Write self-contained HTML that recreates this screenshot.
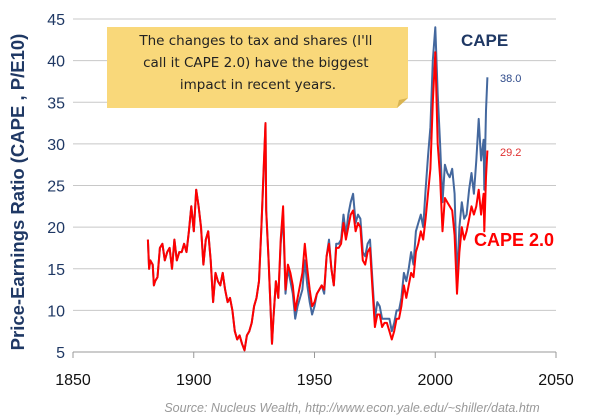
<!DOCTYPE html>
<html><head><meta charset="utf-8">
<style>
body{margin:0;background:#fff;}
svg{display:block;font-family:"Liberation Sans",sans-serif;}
</style></head>
<body>
<svg id="chart" width="602" height="417" viewBox="0 0 602 417">
  <g id="grid"></g>
  <g id="yticks"></g>
  <g id="xticks"></g>
  <text transform="translate(24,192) rotate(-90)" text-anchor="middle" font-size="18.5" font-weight="bold" fill="#1f3864">Price-Earnings Ratio (CAPE , P/E10)</text>
  <g id="series"></g>
  <g>
    <polygon points="107,27 408,27 408,98 397,108 107,108" fill="#f9d87a"/>
    <polygon points="397,108 408,98 399,100" fill="#d9b452"/>
    <text font-family="'Comic Sans MS','DejaVu Sans',sans-serif" font-size="13.5" fill="#222" text-anchor="middle">
      <tspan x="258" y="45">The changes to tax and shares (I'll</tspan>
      <tspan x="258" y="67">call it CAPE 2.0) have the biggest</tspan>
      <tspan x="258" y="89">impact in recent years.</tspan>
    </text>
  </g>
  <text x="461" y="46" font-size="17" font-weight="bold" fill="#1f3864">CAPE</text>
  <text x="500" y="82" font-size="11" fill="#2e4a8a">38.0</text>
  <text x="500" y="156" font-size="11" fill="#e03030">29.2</text>
  <text x="474" y="246" font-size="18" font-weight="bold" fill="#ff0000">CAPE 2.0</text>
  <text x="352" y="412" text-anchor="middle" font-size="12.5" font-style="italic" fill="#999">Source:  Nucleus Wealth, http://www.econ.yale.edu/~shiller/data.htm</text>
</svg>
<script>
const yTicks=[5,10,15,20,25,30,35,40,45];
const xTicks=[1850,1900,1950,2000,2050];
const years=[1881,1881.5,1882,1883,1883.5,1884,1885,1886,1887,1888,1889,1890,1891,1892,1893,1894,1895,1896,1897,1898,1899,1900,1901,1902,1903,1904,1905,1906,1907,1908,1909,1910,1911,1912,1913,1914,1915,1916,1917,1918,1919,1920,1921,1922,1923,1924,1925,1926,1927,1928,1929,1929.7,1930,1931,1932.4,1933,1934,1935,1936,1937,1938,1939,1940,1941,1942,1943,1944,1945,1946,1947,1948,1949,1950,1951,1952,1953,1954,1955,1956,1957,1958,1959,1960,1961,1962,1963,1964,1965,1966,1967,1968,1969,1970,1971,1972,1973,1974,1975,1976,1977,1978,1979,1980,1981,1982,1983,1984,1985,1986,1987,1988,1989,1990,1991,1992,1993,1994,1995,1996,1997,1998,1999,2000,2001,2002,2003,2004,2005,2006,2007,2008,2009,2010,2011,2012,2013,2014,2015,2016,2017,2018,2019,2020,2020.3,2021,2021.6];
const cape=[18.5,15,16,15.5,13,13.5,14,17.5,18,16,17,17.5,15,18.5,16,17,17,18,17,19.5,22.5,19.5,24.5,22.5,20,15.5,18.5,19.5,16,11,14.5,13.5,13,14.5,12.5,11,11.5,10,7.5,6.5,7,6,5.2,7,7.5,8.5,10.5,11.5,13.5,20,27,32.5,22,16,6,9,13.5,11.5,18,21.5,12,15,13.5,12,9,10.5,11.5,12.5,16,13,11,9.5,10.5,12,12.5,13,12,16.5,18.5,15,13,18,18,18.5,21.5,19,21.5,23,24,20.5,21.5,21,17,16.5,18,18.5,13.5,9,11,10.5,9,9,9,9,7.5,8.5,10,10,11.5,14.5,13.5,15,17,15.5,19.5,20.5,21.5,20,24.5,28.5,32,40,44,36,30,23,27.5,26.5,26,27,24,13.5,20,23,21,21.5,24.5,26.5,24,28,33,28,30.5,24.5,34,38];
const cape2=[18.5,15,16,15.5,13,13.5,14,17.5,18,16,17,17.5,15,18.5,16,17,17,18,17,19.5,22.5,19.5,24.5,22.5,20,15.5,18.5,19.5,16,11,14.5,13.5,13,14.5,12.5,11,11.5,10,7.5,6.5,7,6,5.2,7,7.5,8.5,10.5,11.5,13.5,20,27.5,32.5,22,16,6,9,13.5,11.5,18.5,22.5,12.5,15.5,14.5,13,10,11.5,13,14.5,18,15,12.5,10.5,11,12,12.5,13,12.5,16.5,18,15,13,17.5,17.5,18,20.5,18.5,20,21.5,22,19.5,20.5,20,16,15.5,17,17.5,12.5,8,9.5,9.5,8,8.5,8.5,7.5,6.5,7.5,9,9,10.5,13,11.5,13,14.5,14,17,18,19.5,18.5,21,24,27,35,41,30,26,19.5,23.5,23,22.5,22,19,12,17,20,18.5,19.5,21,22.5,21.5,22.5,24.5,21.5,24,19.5,26,29.2];

const L=73,R=556,T=19,B=352;
const xs=v=>L+(v-1850)/200*(R-L);
const ys=v=>B-(v-5)/40*(B-T);
const NS="http://www.w3.org/2000/svg";
function mk(tag,attrs,parent){const e=document.createElementNS(NS,tag);for(const k in attrs)e.setAttribute(k,attrs[k]);parent.appendChild(e);return e;}
const grid=document.getElementById('grid'),yt=document.getElementById('yticks'),xt=document.getElementById('xticks'),ser=document.getElementById('series');
yTicks.forEach(t=>{
  const ln=mk('line',{x1:L,x2:R,y1:ys(t),y2:ys(t),stroke:t===5?'#999':'#c8c8c8','stroke-width':1},grid);
  
  
  const tx=mk('text',{x:L-8,y:ys(t)+6,'text-anchor':'end','font-size':16,fill:'#1f3864'},yt);
  tx.textContent=t;
  
  
});
xTicks.forEach(t=>{
  const tk=mk('line',{x1:xs(t),x2:xs(t),y1:B,y2:B+6,stroke:'#999'},xt);
  
  
  const tx=mk('text',{x:xs(t),y:B+33,'text-anchor':'middle','font-size':16,fill:'#111'},xt);
  tx.textContent=t;
  
  
});
function path(vals,color){
  const d=vals.map((v,i)=>(i?'L':'M')+xs(years[i]).toFixed(1)+','+ys(v).toFixed(1)).join('');
  return mk('path',{d:d,fill:'none',stroke:color,'stroke-width':2,'stroke-linejoin':'round'},ser);
}
const p1=path(cape,'#44689e');


const p2=path(cape2,'#ff0000');


</script>
</body></html>
